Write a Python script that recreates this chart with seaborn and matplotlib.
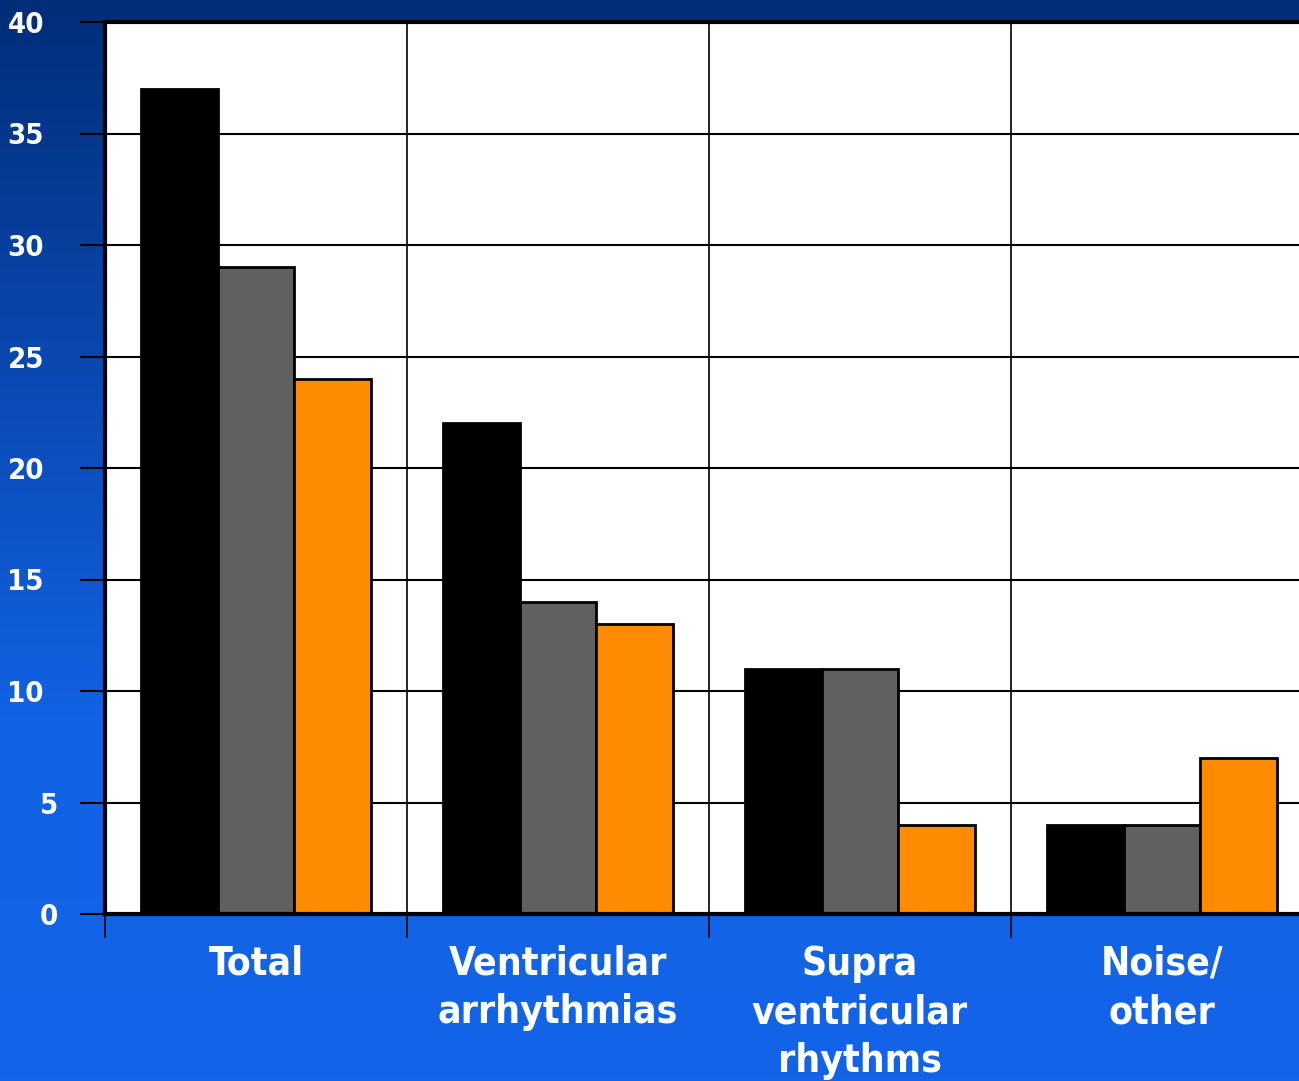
import numpy as np
import pandas as pd
import matplotlib
matplotlib.use("Agg")
import matplotlib.pyplot as plt
from matplotlib.colors import LinearSegmentedColormap
from matplotlib.transforms import ScaledTranslation
import seaborn as sns

categories = ["Total", "Ventricular\narrhythmias", "Supra\nventricular\nrhythms", "Noise/\nother"]
series_names = ["Series 1", "Series 2", "Series 3"]
series1 = [37, 22, 11, 4]
series2 = [29, 14, 11, 4]
series3 = [24, 13, 4, 7]
colors = ["#000000", "#606060", "#FF8C00"]
y_ticks = [0, 5, 10, 15, 20, 25, 30, 35, 40]

rows = []
for name, vals in zip(series_names, [series1, series2, series3]):
    for c, v in zip(categories, vals):
        rows.append({"category": c, "series": name, "value": v})
df = pd.DataFrame(rows)

sns.set_theme(style="white")
font_fam = ["Liberation Sans Narrow", "DejaVu Sans"]
plt.rcParams["font.family"] = font_fam

W, H = 1299, 1081
fig = plt.figure(figsize=(W / 100, H / 100), dpi=100)

# gradient background
bg = fig.add_axes([0, 0, 1, 1], zorder=-10)
cmap = LinearSegmentedColormap.from_list("bg", ["#022D78", "#0A48B0", "#1262E4", "#1264E8"])
grad = np.linspace(0, 1, 256).reshape(-1, 1)
bg.imshow(grad, aspect="auto", cmap=cmap, extent=[0, 1, 0, 1], origin="upper")
bg.set_axis_off()

left = 105 / W
top = 22 / H
bottom = 914 / H
ax = fig.add_axes([left, 1 - bottom, 1 - left, bottom - top])
ax.set_facecolor("white")

sns.barplot(data=df, x="category", y="value", hue="series", hue_order=series_names,
            palette=colors, saturation=1, width=0.76, gap=0, edgecolor="black", linewidth=2,
            legend=False, ax=ax, zorder=3)

ax.set_ylim(0, 40)
ax.set_xlim(-0.5, 3.5 - 14 / 302)
ax.set_yticks(y_ticks)
ax.set_yticklabels([str(t) for t in y_ticks])
ax.set_xlabel("")
ax.set_ylabel("")

ax.set_xticks([-0.5, 0.5, 1.5, 2.5], minor=True)
ax.grid(True, axis="y", which="major", color="black", linewidth=1.5, zorder=0)
ax.grid(True, axis="x", which="minor", color="black", linewidth=1.2, zorder=0)
ax.set_axisbelow(True)

ax.tick_params(axis="x", which="major", length=0, pad=22, labelsize=28, labelcolor="white")
ax.tick_params(axis="x", which="minor", length=17, width=1.2, color="black", direction="out", bottom=True)
ax.tick_params(axis="y", which="major", length=18, width=1.5, color="black", direction="out", left=True,
               pad=26, labelsize=21, labelcolor="white")
for lab in ax.get_xticklabels() + ax.get_yticklabels():
    lab.set_fontweight("bold")
    lab.set_family(font_fam)
    lab.set_fontstretch("condensed")
for lab in ax.get_xticklabels():
    lab.set_linespacing(1.35)
shift = ScaledTranslation(14 / 100, 0, fig.dpi_scale_trans)
for lab in ax.get_yticklabels():
    if len(lab.get_text()) == 1:
        lab.set_transform(lab.get_transform() + shift)

for s in ["left", "bottom", "top"]:
    ax.spines[s].set_visible(True)
    ax.spines[s].set_color("black")
    ax.spines[s].set_linewidth(3)
    ax.spines[s].set_zorder(5)
ax.spines["right"].set_visible(False)

fig.savefig("out.png", dpi=100)
